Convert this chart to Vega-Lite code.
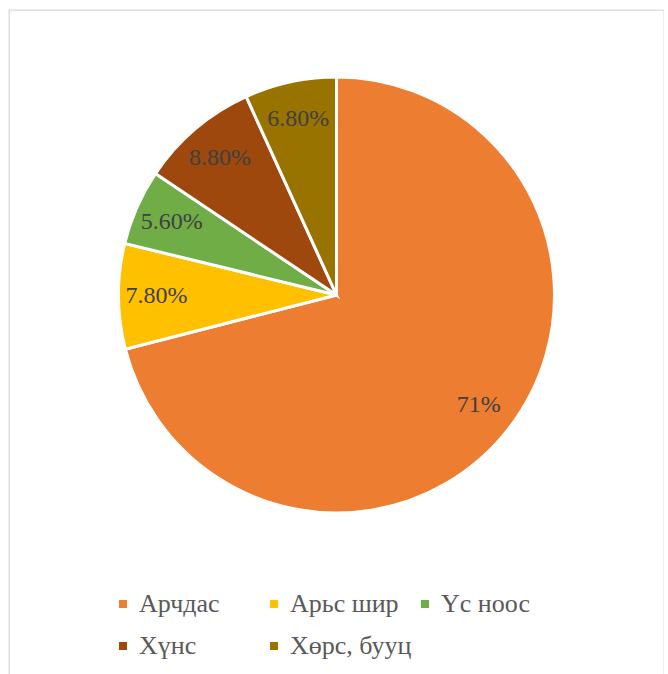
{
  "$schema": "https://vega.github.io/schema/vega-lite/v6.json",
  "width": 655,
  "height": 670,
  "autosize": "none",
  "padding": {"left": 9, "top": 10, "right": 0, "bottom": 0},
  "background": "white",
  "view": {"stroke": "#D9D9D9", "strokeWidth": 1.3, "fill": "white"},
  "config": {"view": {"stroke": "#D9D9D9", "strokeWidth": 1.3}},
  "data": {"values": [
    {"idx": 1, "category": "Арчдас", "value": 71, "label": "71%"},
    {"idx": 2, "category": "Арьс шир", "value": 7.8, "label": "7.80%"},
    {"idx": 3, "category": "Үс ноос", "value": 5.6, "label": "5.60%"},
    {"idx": 4, "category": "Хүнс", "value": 8.8, "label": "8.80%"},
    {"idx": 5, "category": "Хөрс, бууц", "value": 6.8, "label": "6.80%"}
  ]},
  "encoding": {
    "theta": {"field": "value", "type": "quantitative", "stack": true},
    "order": {"field": "idx", "type": "quantitative"}
  },
  "layer": [
    {
      "mark": {"type": "arc", "outerRadius": 218, "stroke": "white", "strokeWidth": 3, "yOffset": -50},
      "encoding": {
        "color": {
          "field": "category", "type": "nominal",
          "scale": {"domain": ["Арчдас", "Арьс шир", "Үс ноос", "Хүнс", "Хөрс, бууц"],
                    "range": ["#ED7D31", "#FFC000", "#70AD47", "#9E480E", "#997300"]},
          "legend": {
            "title": null, "orient": "none", "legendX": 101, "legendY": 581,
            "direction": "horizontal", "columns": 3, "gridAlign": "all",
            "columnPadding": 0, "rowPadding": 16, "padding": 0,
            "symbolType": "square", "symbolSize": 64, "symbolStrokeWidth": 0,
            "labelFont": "Liberation Serif", "labelFontSize": 26, "labelColor": "#595959",
            "labelOffset": 3, "labelLimit": 300
          }
        }
      }
    },
    {
      "mark": {"type": "text", "radius": 180, "yOffset": -50, "font": "Liberation Serif", "fontSize": 24},
      "encoding": {
        "text": {"field": "label"},
        "detail": {"field": "category"},
        "color": {"value": "#404040"}
      }
    }
  ]
}
